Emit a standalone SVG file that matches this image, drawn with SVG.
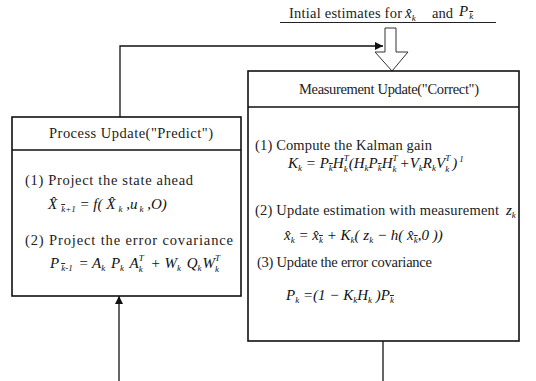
<svg xmlns="http://www.w3.org/2000/svg" width="536" height="381" viewBox="0 0 536 381">
<defs>
<style>
.t{font-family:"Liberation Serif",serif;font-size:14.5px;fill:#222}
.m{font-family:"Liberation Serif",serif;font-size:15px;font-style:italic;fill:#111}
.s{font-size:9px}
.o{text-decoration:overline}
.box{fill:#fff;stroke:#111;stroke-width:1.6}
.ln{fill:none;stroke:#111;stroke-width:1.3}
</style>
<marker id="ah" viewBox="0 0 10 10" refX="10" refY="5" markerWidth="8" markerHeight="8" markerUnits="userSpaceOnUse" orient="auto">
<path d="M0,0 L10,5 L0,10 z" fill="#111"/>
</marker>
</defs>
<rect width="536" height="381" fill="#fff"/>

<g id="connectors">
<polyline class="ln" points="120,117 120,46 383,46" marker-end="url(#ah)"/>
<line class="ln" x1="119" y1="381" x2="119" y2="296" marker-end="url(#ah)"/>
<line class="ln" x1="383" y1="341" x2="383" y2="381"/>
<polygon points="385,28 396,28 396,52 408,52 392,71 375,52 385,52" fill="#fff" stroke="#333" stroke-width="1"/>
</g>

<g id="initial">
<text class="t" x="289" y="18" textLength="113">Intial estimates for</text>
<text class="m" x="405" y="18">x̂<tspan class="s" dy="3">k</tspan></text>
<text class="t" x="432" y="18" textLength="21">and</text>
<text class="m" x="459" y="16">P<tspan class="s o" dx="1" dy="3">k</tspan></text>
<line x1="280" y1="22.5" x2="496" y2="22.5" stroke="#222" stroke-width="1"/>
</g>

<g id="process">
<rect class="box" x="12" y="117" width="229" height="179"/>
<line class="ln" x1="12" y1="150" x2="241" y2="150"/>
<text class="t" x="49" y="138" textLength="164">Process Update("Predict")</text>
<text class="t" x="25" y="185" textLength="168">(1) Project the state ahead</text>
<text class="m" x="48" y="209">X̂<tspan class="s o" dx="4" dy="3">k</tspan><tspan class="s" dy="0">+1</tspan><tspan dy="-3"> = f( X̂</tspan><tspan class="s" dx="3" dy="3">k</tspan><tspan dy="-3"> ,u</tspan><tspan class="s" dx="2" dy="3">k</tspan><tspan dy="-3"> ,O)</tspan></text>
<text class="t" x="25" y="245" textLength="208">(2) Project the error covariance</text>
<text class="m" x="50" y="268">P<tspan class="s o" dx="2" dy="3">k</tspan><tspan class="s">-1</tspan><tspan dy="-3" dx="2"> = A</tspan><tspan class="s" dy="3">k</tspan><tspan dy="-3" dx="2"> P</tspan><tspan class="s" dy="3">k</tspan><tspan dy="-3" dx="2"> A</tspan><tspan class="s" dy="4">k</tspan><tspan class="s" dx="-4" dy="-11">T</tspan><tspan dy="7" dx="3"> + W</tspan><tspan class="s" dy="3">k</tspan><tspan dy="-3" dx="2"> Q</tspan><tspan class="s" dy="3">k</tspan><tspan dy="-3" dx="1">W</tspan><tspan class="s" dy="4">k</tspan><tspan class="s" dx="-4" dy="-11">T</tspan></text>
</g>

<g id="measurement">
<rect class="box" x="248" y="71" width="271" height="270"/>
<line class="ln" x1="248" y1="107" x2="519" y2="107"/>
<text class="t" x="299" y="94" textLength="180">Measurement Update("Correct")</text>
<text class="t" x="255" y="150" textLength="177">(1) Compute the Kalman gain</text>
<text class="m" x="288" y="168">K<tspan class="s" dy="3">k</tspan><tspan dy="-3"> = P</tspan><tspan class="s o" dy="3">k</tspan><tspan dy="-3">H</tspan><tspan class="s" dy="4">k</tspan><tspan class="s" dx="-4" dy="-11">T</tspan><tspan dy="7">(H</tspan><tspan class="s" dy="3">k</tspan><tspan dy="-3">P</tspan><tspan class="s o" dy="3">k</tspan><tspan dy="-3">H</tspan><tspan class="s" dy="4">k</tspan><tspan class="s" dx="-4" dy="-11">T</tspan><tspan dy="7" dx="2">+V</tspan><tspan class="s" dy="3">k</tspan><tspan dy="-3">R</tspan><tspan class="s" dy="3">k</tspan><tspan dy="-3">V</tspan><tspan class="s" dy="4">k</tspan><tspan class="s" dx="-4" dy="-11">T</tspan><tspan dy="7" dx="2">)</tspan><tspan class="s" dx="2" dy="-6">1</tspan></text>
<text class="t" x="255" y="215" textLength="244">(2) Update estimation with measurement</text>
<text class="m" x="506" y="215">z<tspan class="s" dy="3">k</tspan></text>
<text class="m" x="284" y="240">x̂<tspan class="s" dy="3">k</tspan><tspan dy="-3"> = x̂</tspan><tspan class="s o" dy="3">k</tspan><tspan dy="-3"> + K</tspan><tspan class="s" dy="3">k</tspan><tspan dy="-3">( z</tspan><tspan class="s" dy="3">k</tspan><tspan dy="-3"> − h( x̂</tspan><tspan class="s o" dy="3">k</tspan><tspan dy="-3">,0 ))</tspan></text>
<text class="t" x="257" y="267" textLength="175">(3) Update the error covariance</text>
<text class="m" x="286" y="300">P<tspan class="s" dy="3">k</tspan><tspan dy="-3"> =(1 − K</tspan><tspan class="s" dy="3">k</tspan><tspan dy="-3">H</tspan><tspan class="s" dy="3">k</tspan><tspan dy="-3"> )P</tspan><tspan class="s o" dy="3">k</tspan></text>
</g>
</svg>
